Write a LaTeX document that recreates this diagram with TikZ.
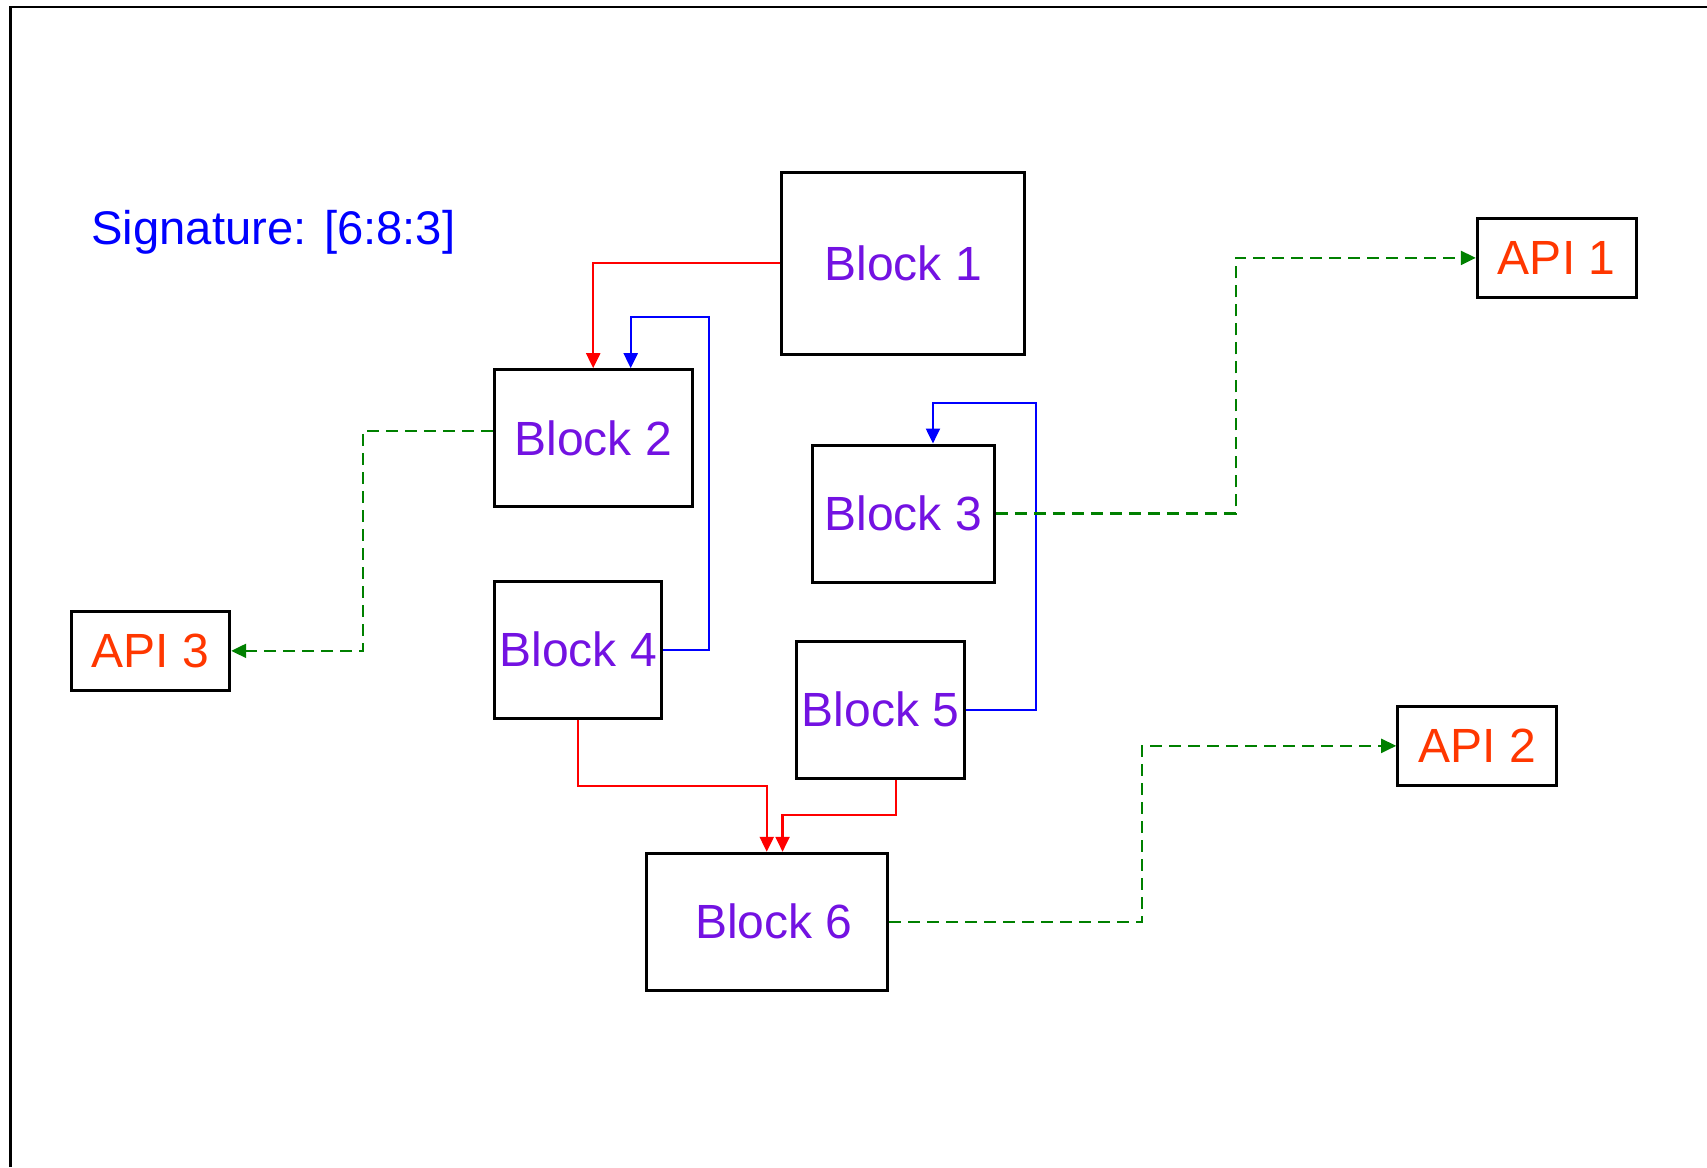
\documentclass[tikz,border=0pt]{standalone}
\usepackage{fontspec}
\setmainfont{Liberation Sans}
\usetikzlibrary{arrows.meta}
\definecolor{blockpurple}{RGB}{115,18,226}
\definecolor{apiorange}{RGB}{255,55,0}
\definecolor{sigblue}{RGB}{0,0,255}
\definecolor{linkgreen}{RGB}{0,128,0}
\tikzset{
  box/.style={draw=black, line width=1.5pt, rectangle, inner sep=0pt, fill=white,
    font=\fontsize{24}{26}\selectfont},
  blockbox/.style={box, text=blockpurple},
  apibox/.style={box, text=apiorange},
  redlink/.style={draw=red, line width=1.1pt, -{Triangle[length=7.5pt,width=7pt]}},
  bluelink/.style={draw=sigblue, line width=1.1pt, -{Triangle[length=7.5pt,width=7pt]}},
  greenlink/.style={draw=linkgreen, line width=1.1pt, dash pattern=on 6pt off 3.5pt,
    -{Triangle[length=7.5pt,width=7pt]}}
}
\begin{document}
\begin{tikzpicture}[x=0.5pt,y=-0.5pt]
\useasboundingbox (0,0) rectangle (1707,1167);
\fill[white] (0,0) rectangle (1707,1167);
% frame
\draw[line width=1.3pt] (10.7,1167) -- (10.7,6.8) -- (1707,6.8);
% signature
\node[anchor=base west, inner sep=0pt, text=sigblue, font=\fontsize{23.6}{26}\selectfont] (sig) at (91,244) {Signature: [6:8:3]};
% blocks
\node[blockbox, minimum width=121.4pt, minimum height=90.65pt] (b1) at (903.2,263.35) {Block 1};
\node[blockbox, minimum width=98.9pt, minimum height=68.15pt] (b2) at (593.2,437.85) {Block 2};
\node[blockbox, minimum width=91.15pt, minimum height=68.5pt] (b3) at (903.15,513.5) {Block 3};
\node[blockbox, minimum width=83.75pt, minimum height=68.35pt] (b4) at (578.05,649.65) {Block 4};
\node[blockbox, minimum width=83.6pt, minimum height=68.5pt] (b5) at (880.4,709.8) {Block 5};
\node[blockbox, minimum width=120.75pt, minimum height=68.35pt] (b6) at (766.75,921.65) {\hspace*{7pt}Block 6};
% APIs
\node[apibox, minimum width=79.35pt, minimum height=39.5pt] (api1) at (1556.65,257.9) {API 1};
\node[apibox, minimum width=79.5pt, minimum height=39.5pt] (api2) at (1477.2,745.85) {API 2};
\node[apibox, minimum width=79.35pt, minimum height=39.85pt] (api3) at (150.35,650.85) {API 3};
% red links
\draw[redlink] (b1.west) -| (b2.north);
\draw[redlink] (b4.south) |- (700,785.7) -| (b6.north);
\draw[redlink] ([xshift=7.8pt]b5.south) |- (840,815.3) -| ([xshift=7.9pt]b6.north);
% blue links
\draw[bluelink] (b4.east) -| (709,316.7) -| ([xshift=18.75pt]b2.north);
\draw[bluelink] (b5.east) -| (1036,403.3) -| ([xshift=14.9pt]b3.north);
% green links
\draw[greenlink] ([yshift=3.6pt]b2.west) -| (363.3,600) |- (api3.east);
\draw[greenlink] (b3.east) -| (1235.7,400) |- (api1.west);
\draw[greenlink] (b6.east) -| (1142,850) |- (api2.west);
\end{tikzpicture}
\end{document}
